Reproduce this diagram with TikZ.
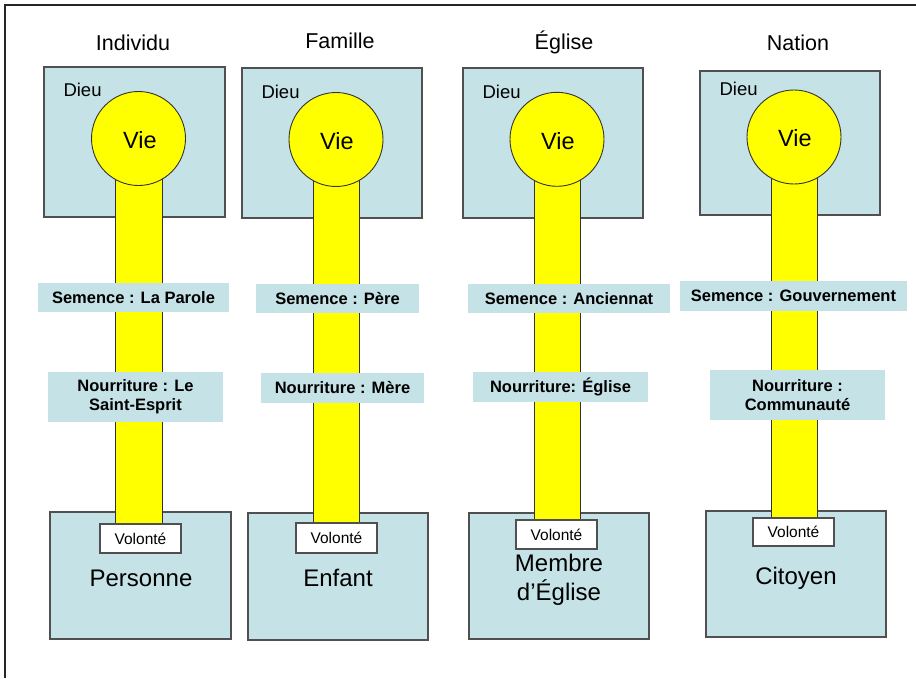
\documentclass[tikz,border=0pt]{standalone}
\usepackage{fontspec}
\setmainfont{Liberation Sans}
\usetikzlibrary{calc}
\definecolor{pale}{HTML}{C5E2E6}
\definecolor{edge}{HTML}{505050}
\definecolor{yel}{HTML}{FFFF00}
\tikzset{
  boxA/.style={draw=edge, line width=1.2pt, fill=pale, inner sep=0pt, minimum width=180, minimum height=150},
  viecircle/.style={circle, draw=black!80, line width=0.9pt, fill=yel, minimum size=94, inner sep=0pt},
  barfill/.style={draw=black!80, line width=0.9pt, fill=yel},
  tag/.style={fill=pale, inner sep=0pt, font=\fontsize{16.5}{19}\selectfont\bfseries, align=center},
  willbox/.style={draw=edge, line width=1.2pt, fill=white, inner sep=0pt, minimum width=81, minimum height=29, font=\fontsize{15.5}{18}\selectfont},
  ttl/.style={anchor=base, font=\fontsize{21.5}{26}\selectfont},
  god/.style={anchor=base west, font=\fontsize{18.5}{22}\selectfont},
  lifetxt/.style={anchor=base, font=\fontsize{23.5}{28}\selectfont},
  who/.style={anchor=base, font=\fontsize{24}{29}\selectfont, align=center}
}
\begin{document}
\begin{tikzpicture}[x=1pt,y=-1pt]
\useasboundingbox (0,0) rectangle (916,678);
\fill[white] (0,0) rectangle (916,678);
\coordinate (fa) at (5,678);
\coordinate (fb) at (5,5);
\coordinate (fc) at (916,5);
\draw[line width=2pt, black!85] (fa) -- (fb) -- (fc);

% ---------- Column 1 : Individu ----------
\node[ttl] (h1) at (133,50.5) {Individu};
\node[boxA, minimum width=181] (t1) at (134.5,142) {};
\node[god] (d1) at (60,96.5) {Dieu};
\node[boxA, minimum width=181, minimum height=127] (l1) at (140.5,575.5) {};
\coordinate (c1) at (139,138.5);
\coordinate (e1) at (139,524);
\path[barfill] ($(c1)+(-23.3,0)$) rectangle ($(e1)+(23.3,0)$);
\node[willbox] (w1) at (140.5,538.5) {Volonté};
\node[viecircle] (v1) at (138.5,138.5) {};
\node[lifetxt] at (140,148.3) {Vie};
\node[tag, minimum width=191, minimum height=29] (s1) at (133.5,297.5) {Semence : La Parole};
\node[tag, minimum width=175, minimum height=50] (n1) at (135.5,397) {Nourriture : Le\\Saint-Esprit};
\node[who] (p1) at (141,586) {Personne};

% ---------- Column 2 : Famille ----------
\node[ttl] (h2) at (340,48.5) {Famille};
\node[boxA] (t2) at (332,143) {};
\node[god] (d2) at (258,98) {Dieu};
\node[boxA, minimum height=127] (l2) at (338,576.5) {};
\coordinate (c2) at (336.5,139.5);
\coordinate (e2) at (336.5,523);
\path[barfill] ($(c2)+(-23.3,0)$) rectangle ($(e2)+(23.3,0)$);
\node[willbox, minimum height=30] (w2) at (336.5,538) {Volonté};
\node[viecircle] (v2) at (336,139.5) {};
\node[lifetxt] at (337,149) {Vie};
\node[tag, minimum width=163, minimum height=29] (s2) at (337.5,298.5) {Semence : Père};
\node[tag, minimum width=163, minimum height=30] (n2) at (342.5,388) {Nourriture : Mère};
\node[who] (p2) at (338,586.5) {Enfant};

% ---------- Column 3 : Église ----------
\node[ttl] (h3) at (564,49) {Église};
\node[boxA] (t3) at (553,143) {};
\node[god] (d3) at (479,98) {Dieu};
\node[boxA, minimum height=126] (l3) at (559,576) {};
\coordinate (c3) at (557.5,139.3);
\coordinate (e3) at (557.5,520);
\path[barfill] ($(c3)+(-23.3,0)$) rectangle ($(e3)+(23.3,0)$);
\node[willbox] (w3) at (556.5,534.5) {Volonté};
\node[viecircle] (v3) at (557,139.3) {};
\node[lifetxt] at (558,149) {Vie};
\node[tag, minimum width=202, minimum height=29] (s3) at (569,298.5) {Semence : Anciennat};
\node[tag, minimum width=175, minimum height=30] (n3) at (560.5,387) {Nourriture: Église};
\node[who] (p3) at (559,600) {Membre\\d’Église};

% ---------- Column 4 : Nation ----------
\node[ttl] (h4) at (798,50.5) {Nation};
\node[boxA, minimum height=144] (t4) at (790,143) {};
\node[god] (d4) at (716,95) {Dieu};
\node[boxA, minimum height=126] (l4) at (796,574) {};
\coordinate (c4) at (794.5,137);
\coordinate (e4) at (794.5,518);
\path[barfill] ($(c4)+(-23.3,0)$) rectangle ($(e4)+(23.3,0)$);
\node[willbox, minimum height=28] (w4) at (793.5,532) {Volonté};
\node[viecircle] (v4) at (794,137) {};
\node[lifetxt] at (795,146.7) {Vie};
\node[tag, minimum width=227, minimum height=30] (s4) at (793.5,296) {Semence : Gouvernement};
\node[tag, minimum width=175, minimum height=50] (n4) at (797.5,395) {Nourriture :\\Communauté};
\node[who] (p4) at (796,584) {Citoyen};
\end{tikzpicture}
\end{document}
